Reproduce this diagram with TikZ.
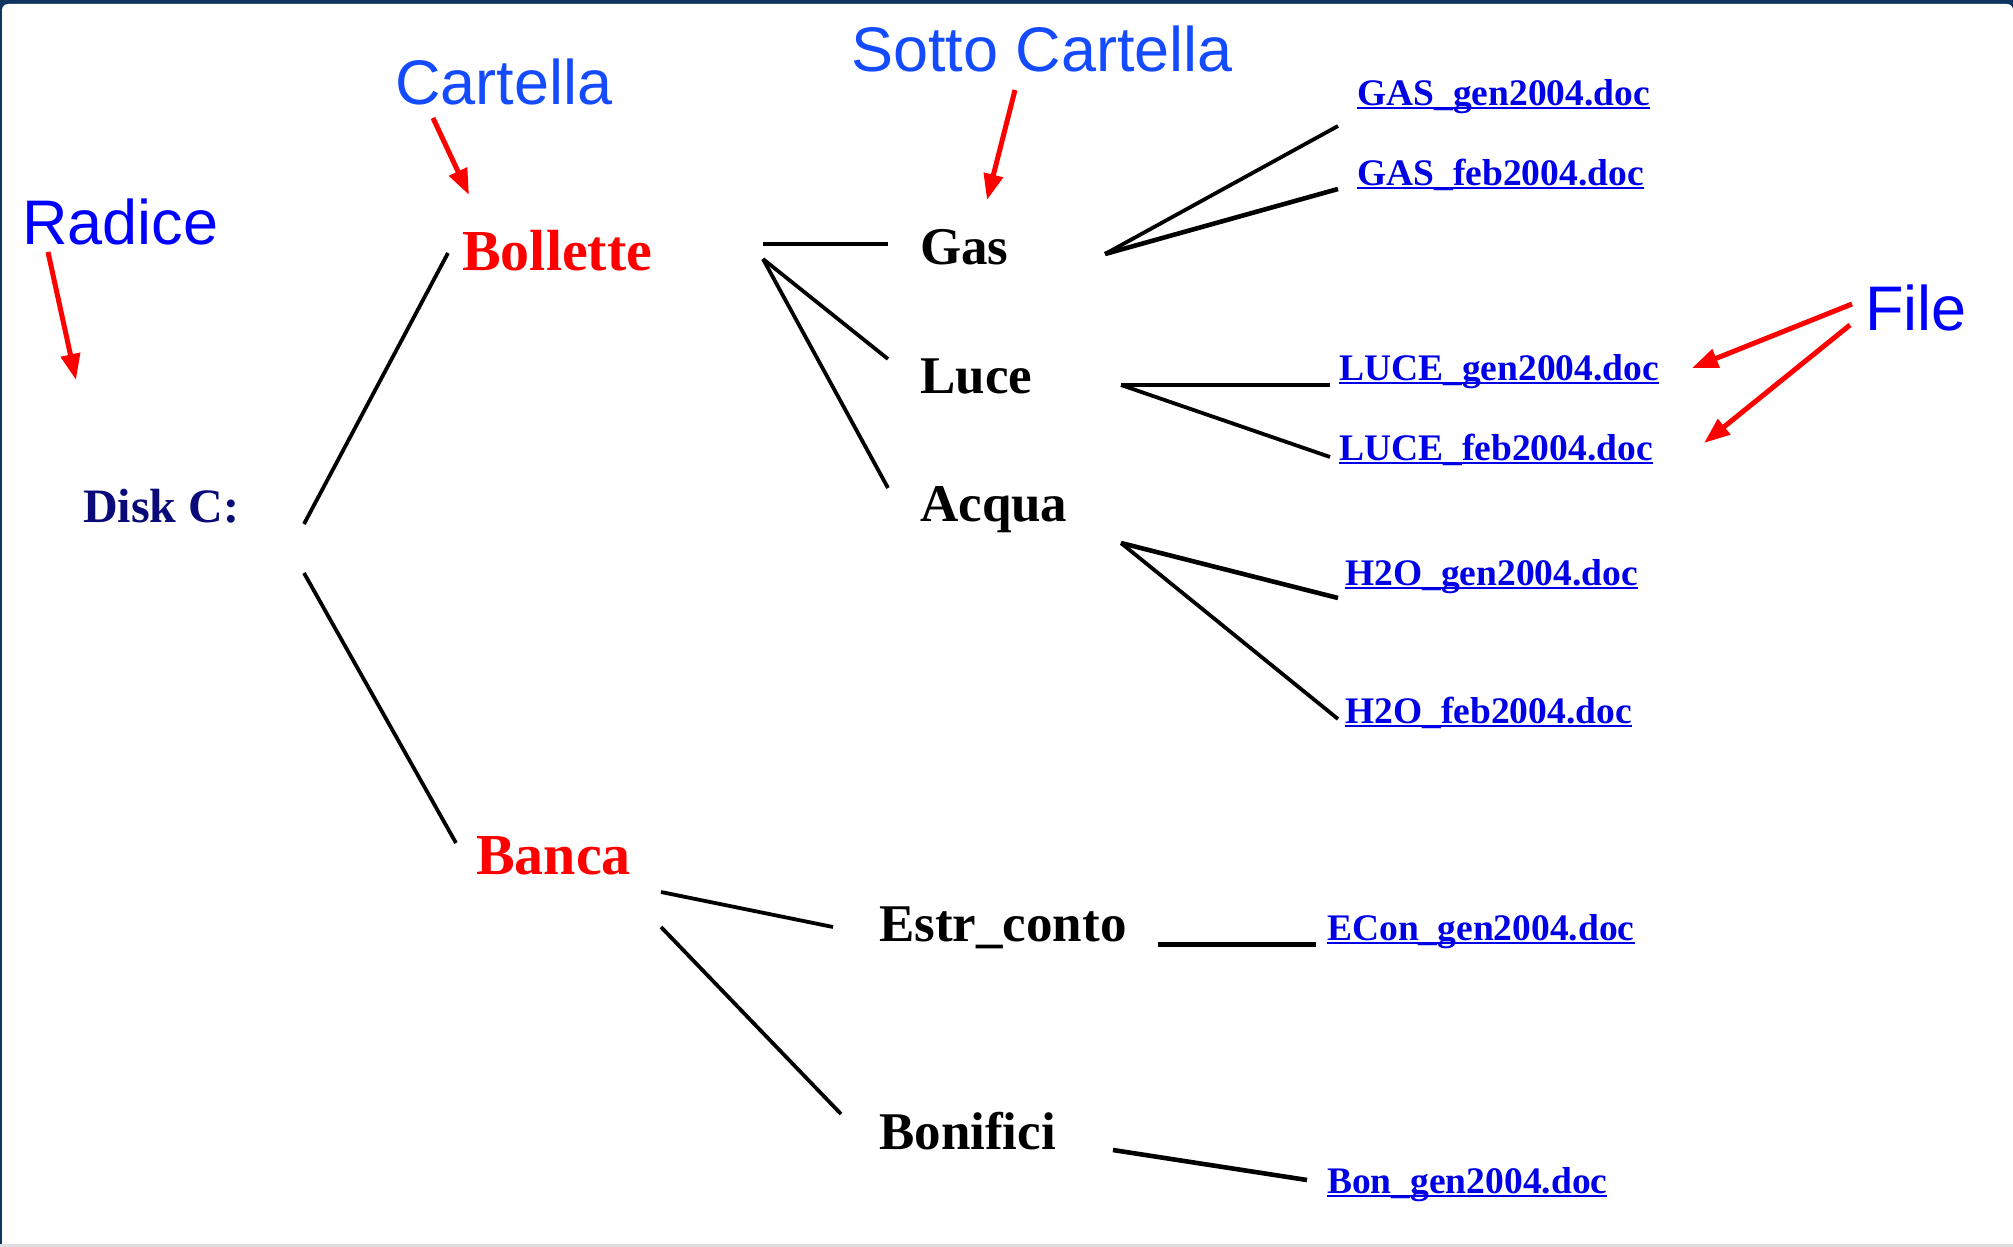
\documentclass[tikz,border=0pt]{standalone}
\usepackage{fontspec}
\setmainfont{Liberation Serif}
\newfontfamily\arialfont{Liberation Sans}
\usetikzlibrary{arrows.meta}
\definecolor{navyframe}{RGB}{14,52,96}
\definecolor{labelblue}{RGB}{0,0,255}
\definecolor{labelblueb}{RGB}{20,75,255}
\definecolor{diskblue}{RGB}{10,10,120}
\definecolor{linkblue}{RGB}{0,0,230}
\definecolor{pureRed}{RGB}{255,0,0}
\newcommand\myul[1]{\setbox0\hbox{#1}\rlap{\color{linkblue}\rule[-4pt]{\wd0}{2.2pt}}\box0}
\tikzset{
  basetext/.style={inner sep=0pt, anchor=base west},
  biglabel/.style={basetext, font=\arialfont\fontsize{63}{70}\selectfont},
  folder/.style={basetext, text=pureRed, font=\bfseries\fontsize{58}{60}\selectfont},
  subf/.style={basetext, font=\bfseries\fontsize{53}{56}\selectfont},
  filenode/.style={basetext, text=linkblue, font=\bfseries\fontsize{37.5}{40}\selectfont},
  link/.style={line width=3.8pt},
  thicklink/.style={line width=4.6pt},
  callout/.style={draw=pureRed, line width=5pt, -{Triangle[length=26pt,width=19pt,fill=pureRed]}}
}
\begin{document}
\begin{tikzpicture}[x=1pt,y=-1pt]
\useasboundingbox (0,0) rectangle (2013,1247);
% frame
\fill[navyframe] (0,0) rectangle (2013,1247);
\fill[white, rounded corners=6pt] (2,4) rectangle (2013,1250);
\fill[gray!25] (0,1244) rectangle (2013,1247);

% labels
\node[biglabel, text=labelblue] (radice) at (22,244) {Radice};
\node[biglabel, text=labelblueb] (cartella) at (395,104) {Cartella};
\node[biglabel, text=labelblueb] (sotto) at (851,72) {Sotto Cartella};
\node[biglabel, text=labelblue] (filelab) at (1865,330) {File};

% tree nodes
\node[basetext, text=diskblue, font=\bfseries\fontsize{48}{50}\selectfont] (disk) at (83,522) {Disk C:};
\node[folder] (bollette) at (462,270) {Bollette};
\node[folder] (banca) at (476,874) {Banca};
\node[subf] (gas) at (920,264) {Gas};
\node[subf] (luce) at (920,393) {Luce};
\node[subf] (acqua) at (920,521) {Acqua};
\node[subf] (estr) at (879,941) {Estr\_conto};
\node[subf] (bonifici) at (879,1149) {Bonifici};

% files
\node[filenode] (gasgen) at (1357,105) {\myul{GAS\_gen2004.doc}};
\node[filenode] (gasfeb) at (1357,185) {\myul{GAS\_feb2004.doc}};
\node[filenode] (lucegen) at (1339,380) {\myul{LUCE\_gen2004.doc}};
\node[filenode] (lucefeb) at (1339,460) {\myul{LUCE\_feb2004.doc}};
\node[filenode] (hgen) at (1345,585) {\myul{H2O\_gen2004.doc}};
\node[filenode] (hfeb) at (1345,723) {\myul{H2O\_feb2004.doc}};
\node[filenode] (econ) at (1327,940) {\myul{ECon\_gen2004.doc}};
\node[filenode] (bon) at (1327,1193) {\myul{Bon\_gen2004.doc}};

% connector end points
\coordinate (d1) at (304,524);  \coordinate (b1) at (448,253);
\coordinate (d2) at (304,573);  \coordinate (k1) at (456,843);
\coordinate (bo1) at (763,244); \coordinate (g1) at (888,244);
\coordinate (bo2) at (763,259); \coordinate (l1) at (888,359);
\coordinate (a1) at (888,488);
\coordinate (g2) at (1105,254); \coordinate (gg) at (1338,126); \coordinate (gf) at (1338,189);
\coordinate (l2) at (1121,385); \coordinate (lg) at (1330,385); \coordinate (lf) at (1330,457);
\coordinate (a2) at (1121,543); \coordinate (hg) at (1338,598); \coordinate (hf) at (1338,719);
\coordinate (ba1) at (661,892); \coordinate (e1) at (833,927);
\coordinate (ba2) at (661,927); \coordinate (bn1) at (841,1114);
\coordinate (e2) at (1158,944); \coordinate (ec) at (1316,944);
\coordinate (bn2) at (1113,1150); \coordinate (bg) at (1307,1180);

\draw[link] (d1) -- (b1);
\draw[link] (d2) -- (k1);
\draw[thicklink] (bo1) -- (g1);
\draw[link] (bo2) -- (l1);
\draw[link] (bo2) -- (a1);
\draw[link] (g2) -- (gg);
\draw[thicklink] (g2) -- (gf);
\draw[thicklink] (l2) -- (lg);
\draw[link] (l2) -- (lf);
\draw[thicklink] (a2) -- (hg);
\draw[link] (a2) -- (hf);
\draw[link] (ba1) -- (e1);
\draw[link] (ba2) -- (bn1);
\draw[line width=5pt] (e2) -- (ec);
\draw[thicklink] (bn2) -- (bg);

% callout arrows
\coordinate (r0) at (48,252);   \coordinate (r1) at (76,380);
\coordinate (c0) at (433,118);  \coordinate (c1) at (469,195);
\coordinate (s0) at (1015,90);  \coordinate (s1) at (987,200);
\coordinate (f0) at (1852,304); \coordinate (f1) at (1692,368);
\coordinate (f2) at (1850,325); \coordinate (f3) at (1704,443);
\draw[callout] (r0) -- (r1);
\draw[callout] (c0) -- (c1);
\draw[callout] (s0) -- (s1);
\draw[callout] (f0) -- (f1);
\draw[callout] (f2) -- (f3);
\end{tikzpicture}
\end{document}
